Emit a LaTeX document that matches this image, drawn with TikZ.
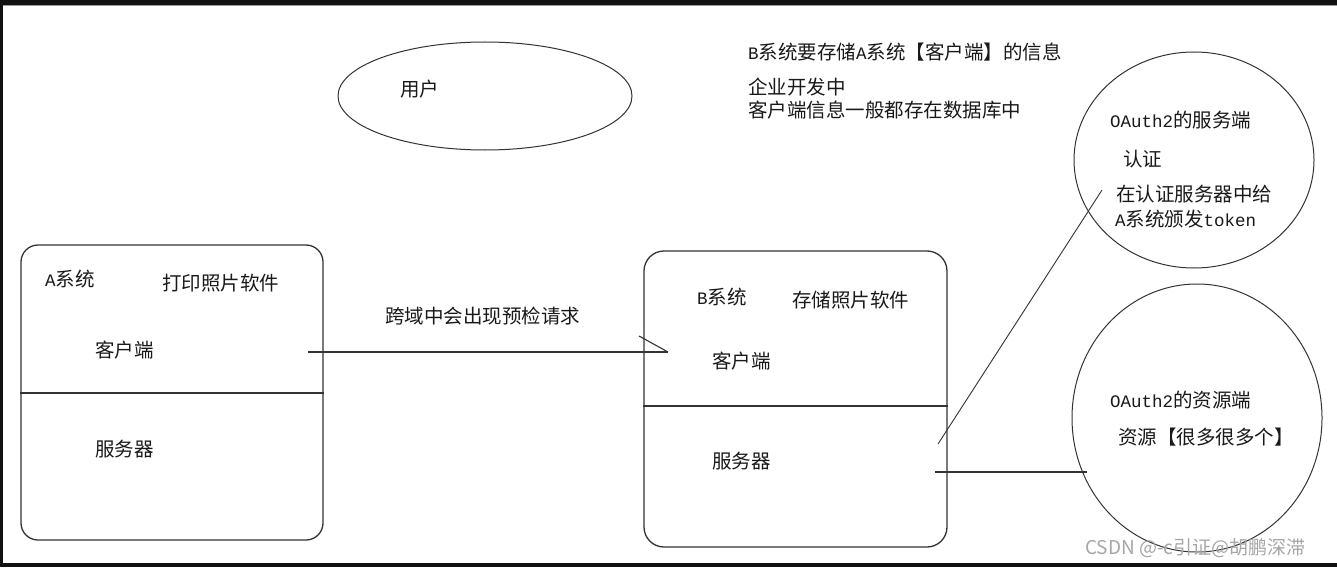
\documentclass[tikz,border=0pt]{standalone}
\usepackage{fontspec}
\usetikzlibrary{shapes.geometric}
\newfontfamily\cjk{Noto Sans CJK SC}
\newfontfamily\lat{Liberation Mono}
\definecolor{framec}{HTML}{111111}
\definecolor{linec}{HTML}{333333}
\newcommand{\latw}[1]{{\lat\fontsize{17.5}{20}\selectfont #1}}
\begin{document}
\begin{tikzpicture}[x=1pt,y=-1pt,
  txt/.style={anchor=west,inner sep=0pt,font=\cjk\fontsize{19.5}{24}\selectfont,text=black!90},
  sysbox/.style={draw=linec,line width=1.3pt,rounded corners=17pt,inner sep=0pt},
  oval/.style={draw=linec,line width=1pt,ellipse,inner sep=0pt},
  conn/.style={draw=linec,line width=1.1pt}]
\useasboundingbox (0,0) rectangle (1337,567);
\fill[white] (0,0) rectangle (1337,567);
% frame bars
\fill[framec] (0,0) rectangle (1337,5);
\fill[framec] (0,0) rectangle (3,567);
\fill[framec] (0,563) rectangle (1337,567);
\draw[black!40,line width=0.6pt] (3,5.5) -- (1337,5.5);

% user ellipse
\node[oval,minimum width=294pt,minimum height=108pt] (user) at (485,96) {};
\node[txt] (userT) at (400,89) {用户};

% top notes
\node[txt] (n1) at (748,52) {\latw{B}系统要存储\latw{A}系统【客户端】的信息};
\node[txt] (n2) at (748,87) {企业开发中};
\node[txt] (n3) at (748,110) {客户端信息一般都存在数据库中};

% system A
\node[sysbox,minimum width=302pt,minimum height=295pt] (A) at (172,392.5) {};
\draw[conn] (A.west |- 0,393) coordinate (Adl) -- (A.east |- 0,393) coordinate (Adr);
\node[txt] (Aname) at (45,279) {\latw{A}系统};
\node[txt] (Adesc) at (162,283) {打印照片软件};
\node[txt] (Aclient) at (95,350) {客户端};
\node[txt] (Aserver) at (95,449) {服务器};

% system B
\node[sysbox,minimum width=303pt,minimum height=296pt,rounded corners=20pt] (B) at (795.5,399) {};
\draw[conn] (B.west |- 0,406) coordinate (Bdl) -- (B.east |- 0,406) coordinate (Bdr);
\node[txt] (Bname) at (697,297) {\latw{B}系统};
\node[txt] (Bdesc) at (792,300) {存储照片软件};
\node[txt] (Bclient) at (712,361) {客户端};
\node[txt] (Bserver) at (712,461) {服务器};

% connector A client -> B client
\coordinate (a1) at (308,352);
\coordinate (b1) at (668,352);
\draw[conn] (a1) -- (b1);
\draw[conn] (b1) -- ++(-29,-16);
\node[txt] (cross) at (385,316) {跨域中会出现预检请求};

% OAuth2 server circle
\node[oval,minimum width=240pt,minimum height=216pt] (auth) at (1194,160) {};
\node[txt] (auth1) at (1110,120) {\latw{OAuth2}的服务端};
\node[txt] (auth2) at (1123,159) {认证};
\node[txt] (auth3) at (1116,194) {在认证服务器中给};
\node[txt] (auth4) at (1115,219) {\latw{A}系统颁发\latw{token}};

% OAuth2 resource circle
\node[oval,minimum width=250pt,minimum height=268pt] (res) at (1197,418) {};
\node[txt] (res1) at (1110,400) {\latw{OAuth2}的资源端};
\node[txt] (res2) at (1118,437) {资源【很多很多个】};

% B server to circles
\coordinate (s1) at (938,444);
\coordinate (s1e) at (1102,190);
\draw[conn,line width=0.9pt] (s1) -- (s1e);
\coordinate (s2) at (935,472);
\coordinate (s2e) at (1087,472);
\draw[conn] (s2) -- (s2e);

% watermark
\node[anchor=west,inner sep=0pt,text=black!35,font=\cjk\fontsize{19}{22}\selectfont] (wm) at (1085,548) {CSDN @-c引证@胡鹏深滞};
\end{tikzpicture}
\end{document}
